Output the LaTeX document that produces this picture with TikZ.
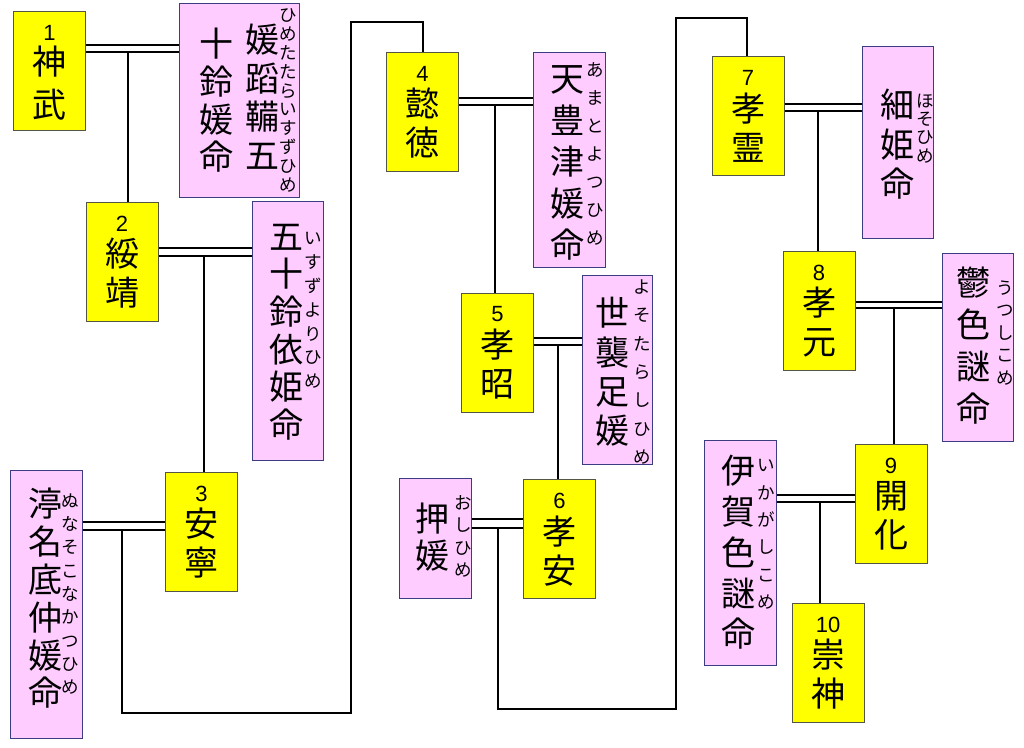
\documentclass[tikz,border=0pt]{standalone}
\usepackage{fontspec}
\setmainfont{Noto Sans CJK JP}
\newfontfamily\numfont{Liberation Sans}
\definecolor{ylw}{RGB}{255,255,0}
\definecolor{ybord}{RGB}{85,85,70}
\definecolor{pnk}{RGB}{255,204,255}
\definecolor{pbord}{RGB}{60,60,130}
\tikzset{
  ybox/.style={draw=ybord, fill=ylw, line width=1pt, inner sep=0pt, minimum width=72pt, minimum height=119pt},
  pbox/.style={draw=pbord, fill=pnk, line width=1pt, inner sep=0pt},
  kcol/.style={font=\fontsize{34}{#1}\selectfont, align=center, inner sep=0pt},
  fcol/.style={font=\fontsize{17.5}{#1}\selectfont, align=center, inner sep=0pt},
  numtxt/.style={font=\numfont\fontsize{22}{24}\selectfont, inner sep=0pt},
  conn/.style={draw=black, line width=2.2pt}
}
\newcommand\tenno[5]{%
  \node[ybox] (#1) at (#2) {};
  \node[numtxt] (#1n) at ([yshift=-22pt]#1.north) {#3};
  \node[kcol=#5] (#1k) at ([yshift=-72pt]#1.north) {#4};
}
\begin{document}
\begin{tikzpicture}[x=1pt,y=-1pt]
\fill[white] (0,0) rectangle (1024,747);
\useasboundingbox (0,0) rectangle (1024,747);

% emperors
\tenno{e1}{49.5,71}{1}{神\\武}{43}
\tenno{e2}{122,261.5}{2}{綏\\靖}{39}
\tenno{e3}{201.5,531.5}{3}{安\\寧}{39}
\tenno{e4}{422.5,111.5}{4}{懿\\徳}{39}
\tenno{e5}{497.5,352.5}{5}{孝\\昭}{39}
\tenno{e6}{559.5,539}{6}{孝\\安}{39}
\tenno{e7}{748,115.5}{7}{孝\\霊}{39}
\tenno{e8}{819,310.5}{8}{孝\\元}{39}
\tenno{e9}{891,504}{9}{開\\化}{39}
\tenno{e10}{828,662.5}{10}{崇\\神}{39}

% consorts
\node[pbox, minimum width=120pt, minimum height=194pt] (p1) at (239,100) {};
\node[kcol=38.5] (p1a) at (262,96.5) {媛\\蹈\\鞴\\五};
\node[fcol=18.8] (p1r) at (288,100.5) {ひ\\め\\た\\た\\ら\\い\\す\\ず\\ひ\\め};
\node[kcol=37.7] (p1b) at (216,100.5) {十\\鈴\\媛\\命};

\node[pbox, minimum width=71pt, minimum height=259pt] (p2) at (287.5,330.5) {};
\node[kcol=37.6] (p2k) at (286,332) {五\\十\\鈴\\依\\姫\\命};
\node[fcol=23.8] (p2r) at (313,310.5) {い\\す\\ず\\よ\\り\\ひ\\め};

\node[pbox, minimum width=72pt, minimum height=268pt] (p3) at (46,604) {};
\node[kcol=37.8] (p3k) at (45,598.5) {渟\\名\\底\\仲\\媛\\命};
\node[fcol=23.3] (p3r) at (70,594) {ぬ\\な\\そ\\こ\\な\\か\\つ\\ひ\\め};

\node[pbox, minimum width=72pt, minimum height=215pt] (p4) at (569,159.5) {};
\node[kcol=41.5] (p4k) at (567,163) {天\\豊\\津\\媛\\命};
\node[fcol=28] (p4r) at (595,154) {あ\\ま\\と\\よ\\つ\\ひ\\め};

\node[pbox, minimum width=70pt, minimum height=189pt] (p5) at (617,369.5) {};
\node[kcol=39.3] (p5k) at (612,372) {世\\襲\\足\\媛};
\node[fcol=28.3] (p5r) at (642,372) {よ\\そ\\た\\ら\\し\\ひ\\め};

\node[pbox, minimum width=72pt, minimum height=120pt] (p6) at (435,538) {};
\node[kcol=37] (p6k) at (432,537.5) {押\\媛};
\node[fcol=22.3] (p6r) at (463,536.5) {お\\し\\ひ\\め};

\node[pbox, minimum width=71pt, minimum height=192pt] (p7) at (897.5,142) {};
\node[kcol=39.5] (p7k) at (897,144.5) {細\\姫\\命};
\node[fcol=18.3] (p7r) at (925,128.5) {ほ\\そ\\ひ\\め};

\node[pbox, minimum width=71pt, minimum height=188pt] (p8) at (977.5,347) {};
\node[kcol=42] (p8k) at (973,346) {鬱\\色\\謎\\命};
\node[fcol=22.5] (p8r) at (1005,333) {う\\つ\\し\\こ\\め};

\node[pbox, minimum width=72pt, minimum height=225pt] (p9) at (740,552.5) {};
\node[kcol=40.75] (p9k) at (738,552.5) {伊\\賀\\色\\謎\\命};
\node[fcol=27.4] (p9r) at (766,534.5) {い\\か\\が\\し\\こ\\め};

% marriages (double lines)
\draw[conn] (e1.east |- 0,45) -- (p1.west |- 0,45);
\draw[conn] (e1.east |- 0,52) -- (p1.west |- 0,52);
\draw[conn] (e2.east |- 0,248) -- (p2.west |- 0,248);
\draw[conn] (e2.east |- 0,256) -- (p2.west |- 0,256);
\draw[conn] (p3.east |- 0,522) -- (e3.west |- 0,522);
\draw[conn] (p3.east |- 0,530) -- (e3.west |- 0,530);
\draw[conn] (e4.east |- 0,98) -- (p4.west |- 0,98);
\draw[conn] (e4.east |- 0,105) -- (p4.west |- 0,105);
\draw[conn] (e5.east |- 0,338) -- (p5.west |- 0,338);
\draw[conn] (e5.east |- 0,345) -- (p5.west |- 0,345);
\draw[conn] (p6.east |- 0,519) -- (e6.west |- 0,519);
\draw[conn] (p6.east |- 0,528) -- (e6.west |- 0,528);
\draw[conn] (e7.east |- 0,104) -- (p7.west |- 0,104);
\draw[conn] (e7.east |- 0,111) -- (p7.west |- 0,111);
\draw[conn] (e8.east |- 0,302) -- (p8.west |- 0,302);
\draw[conn] (e8.east |- 0,308) -- (p8.west |- 0,308);
\draw[conn] (p9.east |- 0,495) -- (e9.west |- 0,495);
\draw[conn] (p9.east |- 0,502) -- (e9.west |- 0,502);

% descent
\coordinate (m1) at (128,52);
\coordinate (m2) at (204,256);
\coordinate (m3) at (122,530);
\coordinate (k3a) at (351,713);
\coordinate (k3b) at (423,22);
\coordinate (m4) at (495,105);
\coordinate (m5) at (558,345);
\coordinate (m6) at (498,528);
\coordinate (k6a) at (676,709);
\coordinate (k6b) at (747,18);
\coordinate (m7) at (818,111);
\coordinate (m8) at (894,308);
\coordinate (m9) at (820,502);

\draw[conn] (m1) -- (m1 |- e2.north);
\draw[conn] (m2) -- (m2 |- e3.north);
\draw[conn, line join=miter] (m3) |- (k3a) |- (k3b) -- (k3b |- e4.north);
\draw[conn] (m4) -- (m4 |- e5.north);
\draw[conn] (m5) -- (m5 |- e6.north);
\draw[conn, line join=miter] (m6) |- (k6a) |- (k6b) -- (k6b |- e7.north);
\draw[conn] (m7) -- (m7 |- e8.north);
\draw[conn] (m8) -- (m8 |- e9.north);
\draw[conn] (m9) -- (m9 |- e10.north);
\end{tikzpicture}
\end{document}
